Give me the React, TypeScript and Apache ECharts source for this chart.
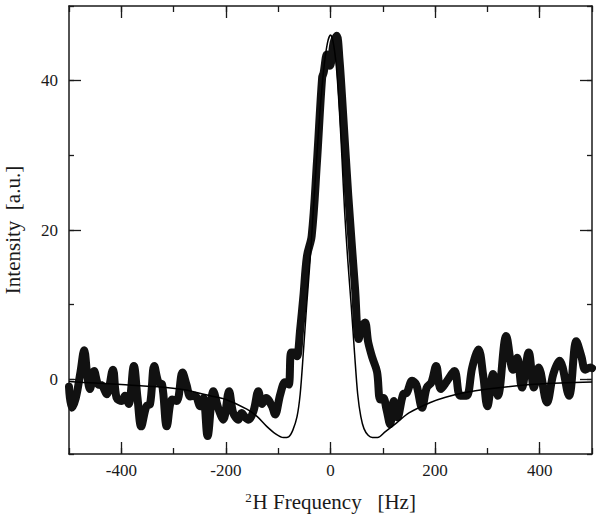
import React, { useEffect, useRef } from "react";
import * as echarts from "echarts";

// Measured spectrum (thick band)
const measuredFreq = [
  -500, -495, -487, -478, -471, -465, -460, -452, -444, -437, -428, -416, -409, -399, -393, -386,
  -376, -369, -362, -352, -345, -337, -329, -322, -313, -303, -294, -283, -275, -268, -259, -249,
  -243, -235, -224, -214, -205, -194, -186, -176, -170, -163, -157, -147, -138, -131, -123, -112,
  -106, -96, -87, -80, -75, -68, -64, -58, -52, -45, -36, -26, -16, -13, -7, -1, 6, 12, 17, 22,
  34, 47, 54, 60, 66, 72, 80, 89, 95, 101, 107, 114, 121, 128, 139, 146, 156, 164, 175, 184, 193,
  202, 211, 223, 237, 248, 260, 271, 283, 292, 300, 311, 320, 336, 349, 357, 366, 379, 389, 398,
  414, 426, 438, 456, 470, 480, 487, 497, 500,
];
const measuredIntensity = [
  -1.0, -3.8, -2.5, 1.0, 3.9, 0.5, -1.3, 1.1, -0.7, -0.8, -2.0, 1.3, -2.5, -2.9, -2.2, -3.3,
  1.8, -2.5, -6.3, -3.6, -3.3, 1.8, -0.4, -0.7, -6.3, -2.7, -2.9, 0.9, -0.8, -2.3, -2.2, -3.6,
  -2.5, -7.6, -1.6, -4.0, -5.4, -1.6, -4.5, -5.4, -4.5, -5.1, -5.4, -4.2, -1.6, -3.3, -2.5, -3.6,
  -4.7, -2.0, -0.4, -0.7, 3.6, 3.6, 3.1, 6.7, 11.0, 16.5, 19.2, 29.0, 40.4, 41.1, 43.5, 42.0, 45.1, 46.0, 43.0, 37.9,
  24.6, 12.1, 5.4, 7.1, 7.6, 5.0, 2.9, 1.0, -2.7, -2.5, -4.0, -6.0, -2.9, -5.1, -2.0, -1.8, -0.2, -0.7, -3.8, -1.1, -0.4,
  1.8, -1.3, -0.2, 1.1, -2.2, -2.2, 1.6, 4.0, 0.5, -3.6, 0.7, -2.2, 5.8, 1.3, 2.9, -1.1, 3.6, -1.1, 1.6,
  -3.1, 0.7, 2.5, -2.2, 5.1, 3.0, 1.3, 1.6, 1.5,
];

// Fitted curve (thin line)
const fitFreq = [
  -500, -450, -400, -330, -280, -230, -200, -160, -140, -122, -105, -90, -80, -72, -64, -58, -52,
  -46, -39, -33, -27, -20, -13, -6, 0, 5, 11, 17, 22, 27, 33, 40, 46, 52, 58, 64, 72, 80, 90, 105,
  127, 150, 191, 220, 255, 300, 382, 440, 500,
];
const fitIntensity = [
  -0.3, -0.5, -0.7, -1.0, -1.4, -2.2, -2.7, -4.0, -5.0, -6.3, -7.3, -7.8, -7.7, -6.8, -5.0, -2.0, 3.5,
  9.5, 16.0, 22.5, 29.0, 36.0, 41.5, 45.0, 46.1, 45.2, 42.0, 36.0, 29.5, 22.5, 16.0, 9.5, 3.5, -2.0, -5.0, -6.6, -7.5, -7.8, -7.8, -7.0,
  -5.8, -4.5, -3.1, -2.4, -1.8, -1.3, -0.7, -0.5, -0.35,
];

const xMajorTicks = [-400, -200, 0, 200, 400];
const yMajorTicks = [0, 20, 40];

const INK = "#1a1a1a";
const FONT = "Liberation Serif";

export default function App() {
  const ref = useRef<HTMLDivElement>(null);
  useEffect(() => {
    if (!ref.current) return;
    const chart = echarts.init(ref.current, null, { renderer: "svg" });
    const lineStyle = { color: INK, width: 1.5 };
    const tickStyle = { color: INK, width: 1.3 };
    const baseX = {
      type: "value",
      min: -500,
      max: 500,
      splitLine: { show: false },
    };
    const baseY = {
      type: "value",
      min: -10,
      max: 50,
      splitLine: { show: false },
    };
    const option: any = {
      animation: false,
      backgroundColor: "#ffffff",
      grid: { left: 69, right: 8, top: 6, bottom: 65, outerBoundsMode: "none" },
      xAxis: [
        {
          ...baseX,
          position: "bottom",
          interval: 100,
          axisLine: { show: true, onZero: false, lineStyle },
          axisTick: { show: true, inside: true, length: 6, lineStyle: tickStyle },
          axisLabel: {
            show: true,
            margin: 8,
            color: INK,
            fontFamily: FONT,
            fontSize: 17,
            formatter: (v: number) => (xMajorTicks.indexOf(v) >= 0 ? String(v) : ""),
          },
          name: "{sup|2}H Frequency   [Hz]",
          nameLocation: "middle",
          nameGap: 37,
          nameTextStyle: {
            color: INK,
            fontFamily: FONT,
            fontSize: 21,
            rich: {
              sup: { fontFamily: FONT, fontSize: 13, color: INK, verticalAlign: "top", padding: [0, 1, 9, 0] },
            },
          },
        },
        {
          ...baseX,
          position: "bottom",
          axisLine: { show: false, onZero: false },
          axisTick: { show: true, inside: true, length: 12, lineStyle: tickStyle, customValues: xMajorTicks },
          axisLabel: { show: false },
        },
        {
          ...baseX,
          position: "top",
          interval: 100,
          axisLine: { show: true, onZero: false, lineStyle },
          axisTick: { show: true, inside: true, length: 6, lineStyle: tickStyle },
          axisLabel: { show: false },
        },
        {
          ...baseX,
          position: "top",
          axisLine: { show: false, onZero: false },
          axisTick: { show: true, inside: true, length: 12, lineStyle: tickStyle, customValues: xMajorTicks },
          axisLabel: { show: false },
        },
      ],
      yAxis: [
        {
          ...baseY,
          position: "left",
          interval: 10,
          axisLine: { show: true, onZero: false, lineStyle },
          axisTick: { show: true, inside: true, length: 5, lineStyle: tickStyle },
          axisLabel: {
            show: true,
            margin: 11,
            color: INK,
            fontFamily: FONT,
            fontSize: 17,
            formatter: (v: number) => (yMajorTicks.indexOf(v) >= 0 ? String(v) : ""),
          },
          name: "Intensity  [a.u.]",
          nameLocation: "middle",
          nameGap: 46,
          nameTextStyle: { color: INK, fontFamily: FONT, fontSize: 21 },
        },
        {
          ...baseY,
          position: "left",
          axisLine: { show: false, onZero: false },
          axisTick: { show: true, inside: true, length: 12, lineStyle: tickStyle, customValues: yMajorTicks },
          axisLabel: { show: false },
        },
        {
          ...baseY,
          position: "right",
          interval: 10,
          axisLine: { show: true, onZero: false, lineStyle },
          axisTick: { show: true, inside: true, length: 5, lineStyle: tickStyle },
          axisLabel: { show: false },
        },
        {
          ...baseY,
          position: "right",
          axisLine: { show: false, onZero: false },
          axisTick: { show: true, inside: true, length: 12, lineStyle: tickStyle, customValues: yMajorTicks },
          axisLabel: { show: false },
        },
      ],
      series: [
        {
          type: "line",
          name: "measured",
          xAxisIndex: 0,
          yAxisIndex: 0,
          data: measuredFreq.map((f, i) => [f, measuredIntensity[i]]),
          showSymbol: false,
          smooth: 0.35,
          lineStyle: { color: "#111111", width: 8, join: "round", cap: "round" },
          z: 2,
        },
        {
          type: "line",
          name: "fit",
          xAxisIndex: 0,
          yAxisIndex: 0,
          data: fitFreq.map((f, i) => [f, fitIntensity[i]]),
          showSymbol: false,
          smooth: 0.3,
          lineStyle: { color: "#000000", width: 1.5 },
          z: 3,
        },
      ],
    };
    chart.setOption(option);
    return () => chart.dispose();
  }, []);
  return (
    <div
      ref={ref}
      style={{ position: "fixed", left: 0, top: 0, width: 600, height: 519, background: "#fff" }}
    />
  );
}
